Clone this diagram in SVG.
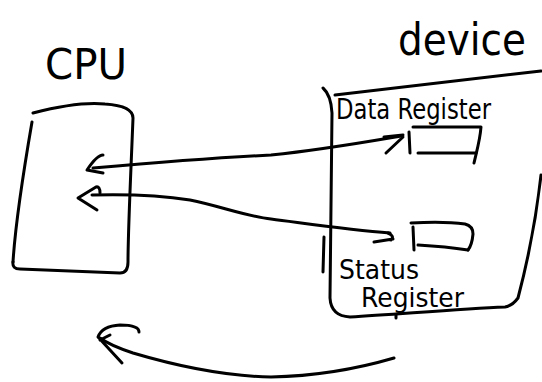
<svg xmlns="http://www.w3.org/2000/svg" width="542" height="382" viewBox="0 0 542 382">
  <style>
    .ink { fill: none; stroke: #000; stroke-width: 3; stroke-linecap: round; stroke-linejoin: round; }
    .hand { font-family: "DejaVu Sans", "Liberation Sans", sans-serif; fill: #000; }
  </style>
  <rect width="542" height="382" fill="#fff"/>

  <!-- CPU block -->
  <g id="cpu">
    <text class="hand" x="45" y="79" font-size="42" textLength="82" lengthAdjust="spacingAndGlyphs">CPU</text>
    <path class="ink" d="M33,113 C60,106 85,102 105,104 C120,105 133,108 133,118 C131,170 128,230 128,262 Q128,273 120,273 L20,269 Q12,269 13,262"/>
    <path class="ink" d="M13,262 C15,230 22,180 32,122"/>
  </g>

  <!-- device block -->
  <g id="device">
    <text class="hand" x="398" y="55" font-size="44" textLength="128" lengthAdjust="spacingAndGlyphs">device</text>
    <path class="ink" d="M335,95 C400,88 470,79 541,71"/>
    <path class="ink" d="M323,88 Q331,95 332,113 L330,298 Q331,316 350,317 C400,314 460,309 505,307 Q512,306 518,298 C528,260 536,220 541,175"/>
    <path class="ink" d="M324,237 L323,272"/>
    <path class="ink" d="M396,315 L396,318"/>
  </g>

  <!-- data register -->
  <g id="data-register">
    <text class="hand" x="336" y="119" font-size="29" textLength="155" lengthAdjust="spacingAndGlyphs">Data Register</text>
    <path class="ink" d="M409,132 L410,153"/>
    <path class="ink" d="M413,127 L481,127 C480,140 477,150 474,163"/>
    <path class="ink" d="M418,153 L476,153"/>
  </g>

  <!-- status register -->
  <g id="status-register">
    <text class="hand" x="339" y="279" font-size="27" textLength="80" lengthAdjust="spacingAndGlyphs">Status</text>
    <text class="hand" x="361" y="307" font-size="27" textLength="103" lengthAdjust="spacingAndGlyphs">Register</text>
    <path class="ink" d="M413,227 L414,250"/>
    <path class="ink" d="M411,223 C430,222 450,222 465,224 Q473,226 473,234 Q472,245 468,250"/>
    <path class="ink" d="M418,245 C435,246 455,248 468,250"/>
  </g>

  <!-- connectors -->
  <g id="connectors">
    <!-- data path, arrows at both ends -->
    <path class="ink" d="M93,168 C150,163 210,158 271,155 C320,150 360,143 401,136"/>
    <path class="ink" d="M103,155 Q97,155 87,170 L103,173"/>
    <path class="ink" d="M384,137 L403,135 M403,137 L386,153"/>
    <!-- status path, arrows at both ends -->
    <path class="ink" d="M92,195 C130,194 165,196 190,200 C220,206 245,216 271,219 C310,224 350,230 390,233"/>
    <path class="ink" d="M100,193 Q100,186 96,187 L78,198 L97,210"/>
    <path class="ink" d="M374,242 L393,239 M388,233 Q395,236 391,240"/>
    <!-- return arrow below -->
    <path class="ink" d="M394,358 C360,368 320,376 271,377 C220,376 170,364 133,353 C118,348 108,344 100,338"/>
    <path class="ink" d="M139,332 Q139,325 120,325 Q102,326 98,337 L122,363 M100,340 L110,335"/>
  </g>
</svg>
